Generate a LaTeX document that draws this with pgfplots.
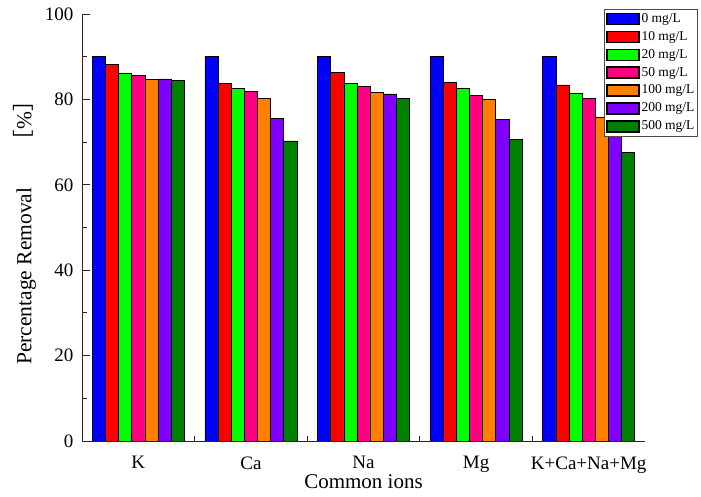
\documentclass[border=0pt]{standalone}
\usepackage{fontspec}
\setmainfont{Liberation Serif}
\newfontfamily\cjk{Noto Sans CJK SC}
\usepackage{pgfplots}
\usepackage{pgfplotstable}
\pgfplotsset{compat=1.18}
\definecolor{cA}{RGB}{0,0,255}
\definecolor{cB}{RGB}{255,0,0}
\definecolor{cC}{RGB}{0,255,0}
\definecolor{cD}{RGB}{255,0,128}
\definecolor{cE}{RGB}{255,128,0}
\definecolor{cF}{RGB}{128,0,255}
\definecolor{cG}{RGB}{0,128,0}
\pgfplotstableread{
x c0 c10 c20 c50 c100 c200 c500
0 90.1 88.2 86.2 85.7 84.7 84.8 84.4
1 90.1 83.7 82.5 81.8 80.2 75.5 70.3
2 90.1 86.3 83.7 83.0 81.7 81.3 80.2
3 90.1 84.0 82.5 81.0 80.0 75.4 70.6
4 90.1 83.4 81.4 80.2 75.8 72.0 67.5
}\datatab
\begin{document}
\begin{tikzpicture}
\path[use as bounding box] (-82pt,-56pt) rectangle (619pt,441pt);
\begin{axis}[
  at={(0pt,0pt)}, anchor=south west,
  scale only axis, width=563pt, height=427pt,
  xmin=-0.5, xmax=4.5, ymin=0, ymax=100,
  axis x line*=bottom, axis y line*=left,
  axis line style={line width=0.9pt, black!85},
  ybar=0pt, bar width=0.1166,
  xtick={0,1,2,3,4},
  xticklabels={K,Ca,Na,Mg,K+Ca+Na+Mg},
  minor xtick={0.5,1.5,2.5,3.5},
  ytick={0,20,40,60,80,100},
  minor ytick={10,30,50,70,90},
  tick align=inside,
  major tick length=8pt, minor tick length=5pt,
  tick style={line width=0.9pt, black!85},
  /pgf/number format/assume math mode=true,
  ticklabel style={font=\fontsize{19}{22}\selectfont},
  xticklabel style={yshift=-12pt},
  yticklabel style={xshift=-5pt},
  xlabel={Common ions},
  ylabel={Percentage Removal\hspace{1.7em}{\cjk ［}\%{\cjk ］}},
  xlabel style={font=\fontsize{21}{24}\selectfont, yshift=5pt},
  ylabel style={font=\fontsize{21.5}{24}\selectfont, yshift=2pt},
  legend style={at={(0.927,1.012)}, anchor=north west, draw=black!70, line width=1pt,
    font=\fontsize{13.5}{15}\selectfont, inner sep=2pt, row sep=2.4pt,
    nodes={inner sep=1.5pt, text height=9.5pt, text depth=3pt}},
  legend cell align=left,
  legend image code/.code={\draw[#1, draw=black, line width=1.7pt] (0pt,-5.5pt) rectangle (32pt,5.5pt);},
  every axis plot/.append style={draw=black, line width=0.6pt},
]
\addplot[fill=cA] table[x=x,y=c0]{\datatab};
\addplot[fill=cB] table[x=x,y=c10]{\datatab};
\addplot[fill=cC] table[x=x,y=c20]{\datatab};
\addplot[fill=cD] table[x=x,y=c50]{\datatab};
\addplot[fill=cE] table[x=x,y=c100]{\datatab};
\addplot[fill=cF] table[x=x,y=c200]{\datatab};
\addplot[fill=cG] table[x=x,y=c500]{\datatab};
\legend{0 mg/L,10 mg/L,20 mg/L,50 mg/L,100 mg/L,200 mg/L,500 mg/L}
\end{axis}
\end{tikzpicture}
\end{document}
